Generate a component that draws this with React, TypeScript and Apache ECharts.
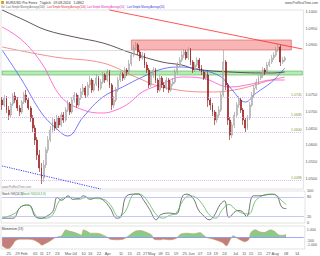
import React, { useEffect, useRef } from 'react';
import * as echarts from 'echarts';

const N_CAT = 138;
const categories = Array.from({ length: N_CAT }, (_, i) => 'd' + i);
const FIRST = categories[0];
const LAST = categories[N_CAT - 1];

// x-axis tick labels: [category index, text]
const tickLabels: [number, string][] = [
  [3, '25'], [7, '29'], [10, 'Feb'], [15, '05'], [18, '11'], [21, '17'], [25, '23'],
  [30, 'Mar'], [33, '04'], [37, '10'], [40, '16'], [44, '22'], [48, 'Apr'], [54, '11'],
  [58, '15'], [62, '21'], [65, '27'], [68, 'May'], [72, '09'], [75, '15'], [79, '19'],
  [83, '25'], [86, 'Jun'], [90, '07'], [94, '13'], [97, '19'], [101, '24'], [106, 'Jul'],
  [110, '11'], [113, '15'], [117, '21'], [121, '27'], [124, 'Aug'], [129, '08'], [134, '14'],
];

// candles: [open, close, low, high]
const candles = [
  [1.0736, 1.0721, 1.0706, 1.0745], [1.0721, 1.0742, 1.0715, 1.0751], [1.0742, 1.0706, 1.0697, 1.0748],
  [1.0706, 1.0691, 1.0676, 1.0718], [1.0691, 1.0724, 1.0682, 1.0730], [1.0724, 1.0748, 1.0718, 1.0757],
  [1.0748, 1.0736, 1.0727, 1.0760], [1.0736, 1.0712, 1.0703, 1.0745], [1.0712, 1.0700, 1.0688, 1.0721],
  [1.0700, 1.0730, 1.0694, 1.0736], [1.0730, 1.0751, 1.0724, 1.0760], [1.0751, 1.0736, 1.0727, 1.0766],
  [1.0736, 1.0712, 1.0706, 1.0742], [1.0712, 1.0682, 1.0670, 1.0718], [1.0682, 1.0652, 1.0640, 1.0691],
  [1.0652, 1.0616, 1.0601, 1.0661], [1.0616, 1.0571, 1.0556, 1.0625], [1.0571, 1.0532, 1.0520, 1.0586],
  [1.0532, 1.0502, 1.0484, 1.0547], [1.0502, 1.0541, 1.0490, 1.0556], [1.0541, 1.0586, 1.0532, 1.0595],
  [1.0586, 1.0616, 1.0577, 1.0628], [1.0616, 1.0646, 1.0610, 1.0658], [1.0646, 1.0670, 1.0637, 1.0682],
  [1.0670, 1.0652, 1.0643, 1.0679], [1.0652, 1.0682, 1.0646, 1.0691], [1.0682, 1.0661, 1.0652, 1.0688],
  [1.0661, 1.0691, 1.0655, 1.0700], [1.0691, 1.0676, 1.0667, 1.0700], [1.0676, 1.0706, 1.0670, 1.0715],
  [1.0706, 1.0724, 1.0700, 1.0736], [1.0724, 1.0700, 1.0691, 1.0730], [1.0700, 1.0736, 1.0694, 1.0745],
  [1.0736, 1.0751, 1.0727, 1.0760], [1.0751, 1.0721, 1.0712, 1.0757], [1.0721, 1.0742, 1.0715, 1.0751],
  [1.0742, 1.0760, 1.0736, 1.0772], [1.0760, 1.0772, 1.0751, 1.0784], [1.0772, 1.0751, 1.0742, 1.0778],
  [1.0751, 1.0781, 1.0745, 1.0790], [1.0781, 1.0796, 1.0772, 1.0808], [1.0796, 1.0766, 1.0757, 1.0802],
  [1.0766, 1.0784, 1.0760, 1.0796], [1.0784, 1.0802, 1.0778, 1.0814], [1.0802, 1.0772, 1.0763, 1.0808],
  [1.0772, 1.0790, 1.0766, 1.0799], [1.0790, 1.0811, 1.0784, 1.0820], [1.0811, 1.0796, 1.0787, 1.0817],
  [1.0796, 1.0820, 1.0790, 1.0829], [1.0820, 1.0781, 1.0772, 1.0826], [1.0781, 1.0721, 1.0706, 1.0787],
  [1.0721, 1.0736, 1.0712, 1.0748], [1.0736, 1.0766, 1.0730, 1.0775], [1.0766, 1.0796, 1.0760, 1.0805],
  [1.0796, 1.0814, 1.0790, 1.0823], [1.0814, 1.0802, 1.0793, 1.0820], [1.0802, 1.0826, 1.0796, 1.0835],
  [1.0826, 1.0820, 1.0808, 1.0832], [1.0820, 1.0844, 1.0814, 1.0856], [1.0844, 1.0871, 1.0838, 1.0880],
  [1.0871, 1.0892, 1.0865, 1.0901], [1.0892, 1.0901, 1.0886, 1.0910], [1.0901, 1.0880, 1.0871, 1.0907],
  [1.0880, 1.0862, 1.0853, 1.0886], [1.0862, 1.0871, 1.0856, 1.0880], [1.0871, 1.0841, 1.0832, 1.0877],
  [1.0841, 1.0826, 1.0817, 1.0850], [1.0826, 1.0781, 1.0772, 1.0832], [1.0781, 1.0811, 1.0775, 1.0820],
  [1.0811, 1.0826, 1.0802, 1.0835], [1.0826, 1.0796, 1.0787, 1.0832], [1.0796, 1.0766, 1.0757, 1.0802],
  [1.0766, 1.0802, 1.0760, 1.0811], [1.0802, 1.0781, 1.0772, 1.0808], [1.0781, 1.0772, 1.0760, 1.0790],
  [1.0772, 1.0796, 1.0766, 1.0805], [1.0796, 1.0766, 1.0757, 1.0802], [1.0766, 1.0784, 1.0760, 1.0793],
  [1.0784, 1.0790, 1.0778, 1.0802], [1.0790, 1.0820, 1.0784, 1.0829], [1.0820, 1.0841, 1.0814, 1.0850],
  [1.0841, 1.0856, 1.0835, 1.0865], [1.0856, 1.0871, 1.0850, 1.0883], [1.0871, 1.0880, 1.0862, 1.0889],
  [1.0880, 1.0862, 1.0856, 1.0886], [1.0862, 1.0886, 1.0856, 1.0895], [1.0886, 1.0850, 1.0841, 1.0892],
  [1.0850, 1.0826, 1.0817, 1.0856], [1.0826, 1.0841, 1.0820, 1.0850], [1.0841, 1.0856, 1.0835, 1.0865],
  [1.0856, 1.0832, 1.0823, 1.0862], [1.0832, 1.0820, 1.0811, 1.0841], [1.0820, 1.0802, 1.0796, 1.0826],
  [1.0802, 1.0811, 1.0796, 1.0820], [1.0811, 1.0736, 1.0715, 1.0820], [1.0736, 1.0721, 1.0706, 1.0742],
  [1.0721, 1.0700, 1.0688, 1.0727], [1.0700, 1.0676, 1.0661, 1.0706], [1.0676, 1.0691, 1.0667, 1.0700],
  [1.0691, 1.0706, 1.0682, 1.0718], [1.0706, 1.0751, 1.0700, 1.0760], [1.0751, 1.0850, 1.0745, 1.0886],
  [1.0850, 1.0781, 1.0766, 1.0856], [1.0781, 1.0676, 1.0661, 1.0787], [1.0676, 1.0631, 1.0616, 1.0685],
  [1.0631, 1.0661, 1.0622, 1.0670], [1.0661, 1.0691, 1.0652, 1.0700], [1.0691, 1.0721, 1.0685, 1.0730],
  [1.0721, 1.0736, 1.0712, 1.0748], [1.0736, 1.0706, 1.0697, 1.0742], [1.0706, 1.0676, 1.0661, 1.0712],
  [1.0676, 1.0652, 1.0640, 1.0682], [1.0652, 1.0682, 1.0646, 1.0691], [1.0682, 1.0721, 1.0676, 1.0730],
  [1.0721, 1.0751, 1.0715, 1.0760], [1.0751, 1.0772, 1.0742, 1.0781], [1.0772, 1.0790, 1.0766, 1.0799],
  [1.0790, 1.0802, 1.0781, 1.0811], [1.0802, 1.0811, 1.0796, 1.0820], [1.0811, 1.0826, 1.0802, 1.0835],
  [1.0826, 1.0820, 1.0811, 1.0832], [1.0820, 1.0841, 1.0814, 1.0850], [1.0841, 1.0850, 1.0835, 1.0859],
  [1.0850, 1.0862, 1.0844, 1.0871], [1.0862, 1.0871, 1.0856, 1.0880], [1.0871, 1.0886, 1.0865, 1.0895],
  [1.0886, 1.0895, 1.0880, 1.0904], [1.0895, 1.0850, 1.0838, 1.0901], [1.0850, 1.0856, 1.0844, 1.0865],
  [1.0856, 1.0862, 1.0850, 1.0868],
];

// moving averages: [category index, value]
const sma200 = [[0, 1.1006], [10, 1.0976], [20, 1.0946], [33, 1.0925], [46, 1.0907], [59, 1.0877], [73, 1.0850], [82, 1.0841], [88, 1.0829], [104, 1.0820], [123, 1.0817], [129, 1.0820]];
const sma100 = [[0, 1.0895], [24, 1.0865], [46, 1.0847], [61, 1.0805], [73, 1.0775], [93, 1.0760], [106, 1.0766], [123, 1.0796], [129, 1.0805]];
const sma50 = [[0, 1.0955], [9, 1.0916], [18, 1.0847], [27, 1.0745], [37, 1.0706], [46, 1.0697], [52, 1.0706], [58, 1.0727], [64, 1.0760], [73, 1.0784], [82, 1.0805], [91, 1.0802], [104, 1.0775], [114, 1.0784], [123, 1.0796], [129, 1.0796]];
const sma20 = [[0, 1.0886], [9, 1.0796], [18, 1.0697], [24, 1.0655], [30, 1.0628], [37, 1.0685], [46, 1.0745], [55, 1.0775], [64, 1.0805], [73, 1.0829], [82, 1.0835], [91, 1.0826], [100, 1.0805], [105, 1.0766], [111, 1.0730], [116, 1.0757], [123, 1.0790], [129, 1.0832]];

// levels
const fibLevels = [1.0745, 1.0685, 1.064, 1.0496];
const zoneTop = 1.0916, zoneBottom = 1.0886;
const bandTop = 1.0823, bandBottom = 1.0811;
const resistance = [[49, 1.1006], [137, 1.0889]];
const supportDotted = [[0, 1.0538], [45, 1.0469]];

// stochastic
const stochK = [[0, 15], [5, 15], [8, 47], [11, 56], [13, 53], [15, 20], [18, 15], [20, 20], [23, 36], [25, 80], [27, 71], [30, 85], [32, 74], [35, 77], [37, 85], [40, 74], [43, 80], [46, 71], [49, 47], [52, 15], [54, 20], [56, 80], [59, 90], [62, 90], [64, 74], [67, 42], [70, 10], [72, 26], [76, 31], [79, 28], [82, 85], [84, 90], [87, 74], [89, 42], [91, 26], [94, 10], [96, 20], [99, 58], [101, 69], [103, 18], [107, 39], [109, 36], [111, 20], [114, 85], [117, 85], [120, 88], [123, 90], [125, 82], [127, 49], [129, 45]];
const stochD = [[0, 15], [6, 31], [9, 53], [12, 56], [14, 37], [17, 15], [20, 15], [23, 26], [26, 69], [29, 80], [32, 80], [35, 74], [38, 80], [41, 77], [46, 74], [49, 58], [53, 20], [56, 37], [59, 85], [61, 92], [64, 85], [67, 58], [70, 26], [73, 15], [76, 24], [79, 31], [82, 69], [85, 85], [88, 80], [91, 58], [94, 26], [97, 15], [100, 42], [103, 58], [106, 42], [109, 31], [112, 28], [115, 69], [118, 85], [121, 90], [124, 88], [127, 69], [129, 58]];

// momentum
const momentum = [[0, -1083], [2, -1430], [3, -1450], [5, -866], [6, -433], [8, -217], [11, -217], [14, -303], [17, -736], [18, -996], [20, -736], [22, -433], [24, -43], [26, 130], [27, 217], [29, 996], [30, 866], [32, 736], [33, 650], [35, 433], [36, 303], [37, 996], [39, 736], [40, 563], [43, 563], [45, 433], [46, 303], [48, 0], [49, -217], [52, -303], [55, -217], [57, 130], [59, 563], [61, 866], [63, 909], [65, 736], [68, 303], [69, -217], [72, -303], [73, -217], [76, -303], [79, -130], [81, 433], [84, 563], [87, 476], [90, 650], [91, 433], [93, 0], [96, -217], [98, -433], [100, -650], [102, -1083], [103, -650], [105, 217], [107, -130], [109, -433], [110, -563], [112, -303], [113, 650], [115, 996], [117, 736], [119, 650], [122, 996], [124, 736], [126, 303], [128, 303], [129, 433]];

const FONT = 'Liberation Sans, Arial, sans-serif';
const last = (a: number[][]) => a[a.length - 1][1];

function hLine(value: number, lineStyle: any, label?: any) {
  return [
    { coord: [FIRST, value], lineStyle, label: label || { show: false } },
    { coord: [LAST, value] },
  ];
}
function endLabel(value: number, text: string, bg: string, color: string) {
  return hLine(value, { opacity: 0, width: 0.1 }, {
    show: true, position: 'end', formatter: text, fontSize: 3.6, fontFamily: FONT,
    color, backgroundColor: bg, padding: [0, 1], distance: 1, lineHeight: 4,
  });
}
function segment(pts: number[][], lineStyle: any) {
  return [
    { coord: [categories[pts[0][0]], pts[0][1]], lineStyle, label: { show: false } },
    { coord: [categories[pts[1][0]], pts[1][1]] },
  ];
}

export default function App() {
  const ref = useRef<HTMLDivElement>(null);
  useEffect(() => {
    const chart = echarts.init(ref.current!, null, { renderer: 'svg' });
    const labelMap = new Map(tickLabels);
    const lastClose = candles[candles.length - 1][1];
    const xBase = (gi: number, showLabels: boolean) => ({
      type: 'category', gridIndex: gi, data: categories, boundaryGap: true,
      axisLine: { show: false }, axisTick: { show: false }, splitLine: { show: false },
      axisLabel: showLabels
        ? {
            show: true, fontSize: 4, color: '#555', fontFamily: FONT, margin: 2,
            interval: (i: number) => labelMap.has(i),
            formatter: (v: string) => labelMap.get(parseInt(v.slice(1), 10)) || '',
          }
        : { show: false },
    });
    const gridBase = { left: 1, right: 15, show: true, borderColor: '#c4c4c4', borderWidth: 0.5, backgroundColor: '#fff' };
    const lineSeries = (data: number[][], color: string, lbl: any[]) => ({
      type: 'line', xAxisIndex: 0, yAxisIndex: 0, data, showSymbol: false, smooth: 0.4,
      lineStyle: { color, width: 0.8 }, silent: true, z: 3,
      markLine: { silent: true, symbol: 'none', animation: false, data: [lbl] },
    });
    const option: any = {
      animation: false,
      backgroundColor: '#fff',
      textStyle: { fontFamily: FONT },
      grid: [
        { ...gridBase, top: 10, height: 179 },
        { ...gridBase, top: 191, height: 32 },
        { ...gridBase, top: 226, height: 23 },
      ],
      xAxis: [xBase(0, false), xBase(1, false), xBase(2, true)],
      yAxis: [
        {
          type: 'value', gridIndex: 0, position: 'right', min: 1.0469, max: 1.1006, splitNumber: 11,
          minInterval: 0.005, maxInterval: 0.005,
          axisLine: { show: false }, axisTick: { show: false }, splitLine: { show: false },
          axisLabel: {
            fontSize: 3.8, color: '#555', margin: 2, showMinLabel: false, showMaxLabel: false,
            formatter: (v: number) => (Math.abs(v - 1.08) < 1e-6 || Math.abs(v - 1.085) < 1e-6 ? '' : v.toFixed(4)),
          },
        },
        {
          type: 'value', gridIndex: 1, position: 'right', min: 0, max: 100, interval: 20,
          axisLine: { show: false }, axisTick: { show: false }, splitLine: { show: false },
          axisLabel: { fontSize: 3.8, color: '#555', margin: 2, formatter: (v: number) => (v === 40 || v === 60 ? '' : String(v)) },
        },
        {
          type: 'value', gridIndex: 2, position: 'right', min: -1500, max: 1500, interval: 500,
          axisLine: { show: false }, axisTick: { show: false }, splitLine: { show: false },
          axisLabel: {
            fontSize: 3.6, color: '#555', margin: 2, showMinLabel: false, showMaxLabel: false,
            formatter: (v: number) => (v === 1000 ? '1.000' : v === -1000 ? '-1.000' : v === -500 ? '-500' : ''),
          },
        },
      ],
      visualMap: {
        type: 'piecewise', show: false, seriesIndex: 7, dimension: 1,
        pieces: [
          { gt: 0, lte: 5000, color: '#74c274' },
          { gt: -5000, lte: 0, color: '#b86868' },
        ],
        outOfRange: { color: '#999' },
      },
      series: [
        {
          type: 'candlestick', xAxisIndex: 0, yAxisIndex: 0, data: candles, barWidth: 1.4, z: 4,
          itemStyle: { color: '#f4f4f4', color0: '#b51c1c', borderColor: '#959595', borderColor0: '#8a0f0f', borderWidth: 0.6 },
          markArea: {
            silent: true,
            data: [
              [{ coord: ['d59', zoneTop], itemStyle: { color: 'rgba(240,120,120,0.55)', borderColor: '#e05050', borderWidth: 0.6 } }, { coord: ['d132', zoneBottom] }],
              [{ coord: [FIRST, bandTop], itemStyle: { color: 'rgba(130,225,130,0.6)', borderColor: '#3f9f3f', borderWidth: 0.5 } }, { coord: [LAST, bandBottom] }],
            ],
          },
          markLine: {
            silent: true, symbol: 'none', animation: false,
            data: [
              segment(resistance, { color: '#ff2a2a', width: 0.8, type: 'solid' }),
              segment(supportDotted, { color: '#3a3aff', width: 1, type: [1.2, 1.2] }),
              segment([[0, zoneBottom], [59, zoneBottom]], { color: '#c8c8c8', width: 0.6, type: 'solid' }),
              ...fibLevels.map((v) => hLine(v, { color: '#d9a3ee', width: 0.8, type: [1, 1] },
                { show: true, position: 'insideEndTop', formatter: v.toFixed(4), fontSize: 3.5, color: '#7a9a30', distance: 0.5 })),
              endLabel(lastClose, lastClose.toFixed(4), '#e6b800', '#222'),
            ],
          },
        },
        lineSeries(sma200, '#3b2b2b', endLabel(last(sma200), last(sma200).toFixed(4), '#d8d8d8', '#222')),
        lineSeries(sma100, '#f07474', endLabel(last(sma100), last(sma100).toFixed(4), '#fbd0d0', '#d02020')),
        lineSeries(sma50, '#ff4fcf', endLabel(last(sma50) - 0.0009, last(sma50).toFixed(4), '#fbd0f0', '#d020b0')),
        lineSeries(sma20, '#5656ff', endLabel(last(sma20), last(sma20).toFixed(4), '#c8c8ff', '#2020c0')),
        {
          type: 'line', xAxisIndex: 1, yAxisIndex: 1, data: stochK, showSymbol: false, smooth: 0.4, silent: true,
          lineStyle: { color: '#3a3a3a', width: 0.7 },
          markLine: {
            silent: true, symbol: 'none', animation: false,
            data: [
              hLine(80, { color: '#aab0f0', width: 0.7, type: 'solid' }),
              hLine(20, { color: '#aab0f0', width: 0.7, type: 'solid' }),
              endLabel(last(stochK), last(stochK).toFixed(2), '#d8d8d8', '#222'),
            ],
          },
        },
        {
          type: 'line', xAxisIndex: 1, yAxisIndex: 1, data: stochD, showSymbol: false, smooth: 0.4, silent: true,
          lineStyle: { color: '#4aa84a', width: 0.7 },
          markLine: { silent: true, symbol: 'none', animation: false, data: [endLabel(last(stochD), last(stochD).toFixed(2), '#bfe8bf', '#206020')] },
        },
        {
          type: 'line', xAxisIndex: 2, yAxisIndex: 2, data: momentum, showSymbol: false, smooth: 0.3, silent: true,
          lineStyle: { width: 0, opacity: 0 }, areaStyle: { opacity: 0.85 },
        },
        {
          type: 'line', xAxisIndex: 2, yAxisIndex: 2, data: momentum, showSymbol: false, smooth: 0.3, silent: true,
          lineStyle: { color: '#c9a060', width: 0.6 },
          markLine: {
            silent: true, symbol: 'none', animation: false,
            data: [
              hLine(0, { color: '#8080ff', width: 0.7, type: 'solid' }),
              endLabel(last(momentum), last(momentum).toFixed(2), '#bfe8bf', '#206020'),
            ],
          },
        },
      ],
      graphic: [
        { type: 'rect', left: 1, top: 1, shape: { width: 3, height: 3 }, style: { fill: '#e0a020' } },
        { type: 'text', left: 6, top: 1, style: { text: 'EUR/USD Pro Forex   Täglich   09.08.2024   1.0862', fontSize: 3.4, fill: '#333', fontFamily: FONT } },
        { type: 'text', right: 2, top: 1, style: { text: 'www.ProRealTime.com', fontSize: 3.2, fill: '#444', fontFamily: FONT } },
        { type: 'text', left: 1, top: 5.5, style: { text: 'Vol  Last Simple Moving Average(200)', fontSize: 2.6, fill: '#666', fontFamily: FONT } },
        { type: 'text', left: 47, top: 5.5, style: { text: 'Last Simple Moving Average(100)', fontSize: 2.6, fill: '#e03030', fontFamily: FONT } },
        { type: 'text', left: 87, top: 5.5, style: { text: 'Last Simple Moving Average(50)', fontSize: 2.6, fill: '#e020c0', fontFamily: FONT } },
        { type: 'text', left: 127, top: 5.5, style: { text: 'Last Simple Moving Average(20)', fontSize: 2.6, fill: '#3030e0', fontFamily: FONT } },
        { type: 'text', left: 2, top: 185.5, style: { text: 'www.ProRealTime.com', fontSize: 2.8, fill: '#888', fontFamily: FONT } },
        { type: 'text', left: 2, top: 192, style: { text: 'Stoch %K(14,3)', fontSize: 3, fill: '#333', fontFamily: FONT } },
        { type: 'text', left: 22, top: 192, style: { text: 'Stoch %D(14,3,3)', fontSize: 3, fill: '#3a9a3a', fontFamily: FONT } },
        { type: 'text', left: 2, top: 227, style: { text: 'Momentum (13)', fontSize: 3, fill: '#333', fontFamily: FONT } },
      ],
    };
    chart.setOption(option);
    return () => chart.dispose();
  }, []);
  return <div ref={ref} style={{ position: 'fixed', left: 0, top: 0, width: 320, height: 256 }} />;
}
